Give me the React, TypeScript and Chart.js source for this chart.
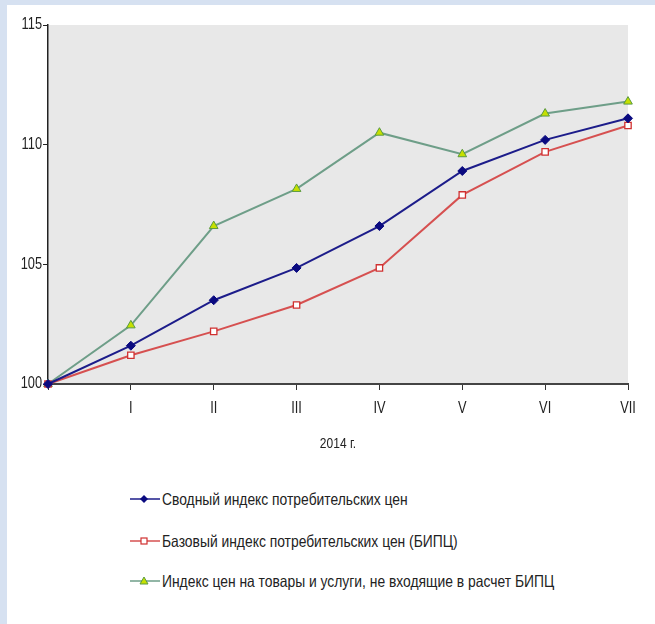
import React, { useEffect, useRef } from "react";
import { Chart, registerables } from "chart.js";

Chart.register(...registerables);

const categories = ["", "I", "II", "III", "IV", "V", "VI", "VII"];
const cpiValues = [100, 101.6, 103.5, 104.85, 106.6, 108.9, 110.2, 111.1];
const coreValues = [100, 101.2, 102.2, 103.3, 104.85, 107.9, 109.7, 110.8];
const nonCoreValues = [100, 102.45, 106.6, 108.15, 110.5, 109.6, 111.3, 111.8];
const seriesNames = [
  "Сводный индекс потребительских цен",
  "Базовый индекс потребительских цен (БИПЦ)",
  "Индекс цен на товары и услуги, не входящие в расчет БИПЦ",
];
const xTitle = "2014 г.";
const yMin = 100;
const yMax = 115;
const yStep = 5;

const FONT = '"Liberation Sans", Arial, sans-serif';
const NARROW = 0.8;
const TEXT_COLOR = "#222";

const bgPlugin = {
  id: "plotBg",
  beforeDraw(chart: any) {
    const { ctx, chartArea } = chart;
    if (!chartArea) return;
    ctx.save();
    ctx.fillStyle = "#e8e8e8";
    ctx.fillRect(chartArea.left, chartArea.top, chartArea.right - chartArea.left, chartArea.bottom - chartArea.top);
    ctx.restore();
  },
};

// Draws the axes' own tick labels and title in a condensed (narrow) style.
const narrowLabelsPlugin = {
  id: "narrowLabels",
  afterDraw(chart: any) {
    const { ctx } = chart;
    const xs = chart.scales.x;
    const ys = chart.scales.y;
    ctx.save();
    ctx.fillStyle = TEXT_COLOR;
    ctx.font = `16px ${FONT}`;
    ctx.textAlign = "center";
    ctx.textBaseline = "middle";
    xs.ticks.forEach((t: any, i: number) => {
      const label = t.label ?? "";
      if (!label) return;
      const px = xs.getPixelForTick(i);
      ctx.save();
      ctx.translate(px, xs.top + 25);
      ctx.scale(NARROW, 1);
      ctx.fillText(String(label), 0, 0);
      ctx.restore();
    });
    ctx.textAlign = "right";
    ys.ticks.forEach((t: any, i: number) => {
      const py = ys.getPixelForTick(i);
      ctx.save();
      ctx.translate(ys.right - 6, py);
      ctx.scale(NARROW, 1);
      ctx.fillText(String(t.label), 0, 0);
      ctx.restore();
    });
    ctx.font = `15px ${FONT}`;
    ctx.textAlign = "center";
    ctx.save();
    ctx.translate((xs.left + xs.right) / 2, xs.top + 60);
    ctx.scale(NARROW, 1);
    ctx.fillText(xTitle, 0, 0);
    ctx.restore();
    ctx.restore();
  },
};

function LegendIcon({ kind }: { kind: number }) {
  const w = 30;
  const h = 12;
  const cx = 14;
  const cy = 6;
  if (kind === 0) {
    return (
      <svg width={w} height={h}>
        <line x1={0} y1={cy} x2={w} y2={cy} stroke="#1c1c8a" strokeWidth={1.5} />
        <polygon points={`${cx},${cy - 4} ${cx + 4},${cy} ${cx},${cy + 4} ${cx - 4},${cy}`} fill="#0a0a80" />
      </svg>
    );
  }
  if (kind === 1) {
    return (
      <svg width={w} height={h}>
        <line x1={0} y1={cy} x2={w} y2={cy} stroke="#d65050" strokeWidth={1.5} />
        <rect x={cx - 3} y={cy - 3} width={6} height={6} fill="#ffffff" stroke="#d03030" strokeWidth={1.2} />
      </svg>
    );
  }
  return (
    <svg width={w} height={h}>
      <line x1={0} y1={cy} x2={w} y2={cy} stroke="#6e9e88" strokeWidth={1.5} />
      <polygon points={`${cx},${cy - 4} ${cx + 4},${cy + 3} ${cx - 4},${cy + 3}`} fill="#c6e000" stroke="#5a9a40" strokeWidth={1} />
    </svg>
  );
}

export default function App() {
  const canvasRef = useRef<HTMLCanvasElement | null>(null);

  useEffect(() => {
    if (!canvasRef.current) return;
    const chart = new Chart(canvasRef.current, {
      type: "line",
      data: {
        labels: categories,
        datasets: [
          {
            label: seriesNames[0],
            data: cpiValues,
            borderColor: "#1c1c8a",
            backgroundColor: "#0a0a80",
            borderWidth: 2,
            pointStyle: "rectRot",
            pointRadius: 4.5,
            pointBackgroundColor: "#0a0a80",
            pointBorderColor: "#0a0a80",
            pointBorderWidth: 1,
            tension: 0,
            clip: false,
          },
          {
            label: seriesNames[1],
            data: coreValues,
            borderColor: "#d65050",
            backgroundColor: "#ffffff",
            borderWidth: 2,
            pointStyle: "rect",
            pointRadius: 4.5,
            pointBackgroundColor: "#ffffff",
            pointBorderColor: "#d03030",
            pointBorderWidth: 1.3,
            tension: 0,
            clip: false,
          },
          {
            label: seriesNames[2],
            data: nonCoreValues,
            borderColor: "#6e9e88",
            backgroundColor: "#c6e000",
            borderWidth: 2,
            pointStyle: "triangle",
            pointRadius: 5,
            pointBackgroundColor: "#c6e000",
            pointBorderColor: "#5a9a40",
            pointBorderWidth: 1,
            tension: 0,
            clip: false,
          },
        ] as any,
      },
      options: {
        animation: false,
        responsive: false,
        layout: { padding: { left: 0, right: 27, top: 20, bottom: 0 } },
        plugins: {
          legend: { display: false },
          tooltip: { enabled: false },
        },
        scales: {
          x: {
            type: "category",
            offset: false,
            grid: {
              display: true,
              drawOnChartArea: false,
              drawTicks: true,
              tickLength: 6,
              color: "#333",
              lineWidth: 1,
            },
            border: { display: true, color: "#444", width: 2 },
            ticks: {
              font: { family: FONT, size: 12 },
              color: "rgba(0,0,0,0)",
              padding: 13,
              maxRotation: 0,
              autoSkip: false,
            },
            title: {
              display: true,
              text: xTitle,
              font: { family: FONT, size: 12 },
              color: "rgba(0,0,0,0)",
              padding: { top: 0, bottom: 5 },
            },
            afterFit(scale: any) {
              scale.height = 70;
            },
          },
          y: {
            min: yMin,
            max: yMax,
            grid: {
              display: true,
              drawOnChartArea: false,
              drawTicks: true,
              tickLength: 5,
              color: "#222",
              lineWidth: 1,
            },
            border: { display: true, color: "#222", width: 1.5 },
            ticks: {
              stepSize: yStep,
              font: { family: FONT, size: 13 },
              color: "rgba(0,0,0,0)",
              padding: 3,
            },
            afterFit(scale: any) {
              scale.width = 41;
            },
          },
        },
      } as any,
      plugins: [bgPlugin, narrowLabelsPlugin],
    });
    return () => chart.destroy();
  }, []);

  const legendTops = [484, 526, 566];

  return (
    <div
      style={{
        position: "absolute",
        left: 0,
        top: 0,
        width: 655,
        height: 624,
        background: "#d6e1f1",
        overflow: "hidden",
        fontFamily: FONT,
      }}
    >
      <div style={{ position: "absolute", left: 7, top: 5, width: 648, height: 619, background: "#ffffff" }}>
        <canvas ref={canvasRef} width={648} height={449} style={{ position: "absolute", left: 0, top: 0, width: 648, height: 449 }} />
        {seriesNames.map((name, i) => (
          <div
            key={name}
            style={{
              position: "absolute",
              left: 123,
              top: legendTops[i],
              height: 20,
              display: "flex",
              alignItems: "center",
              color: TEXT_COLOR,
              whiteSpace: "nowrap",
            }}
          >
            <LegendIcon kind={i} />
            <span
              style={{
                marginLeft: 2,
                fontSize: 16.5,
                display: "inline-block",
                transform: `scaleX(0.84)`,
                transformOrigin: "left center",
              }}
            >
              {name}
            </span>
          </div>
        ))}
      </div>
    </div>
  );
}
